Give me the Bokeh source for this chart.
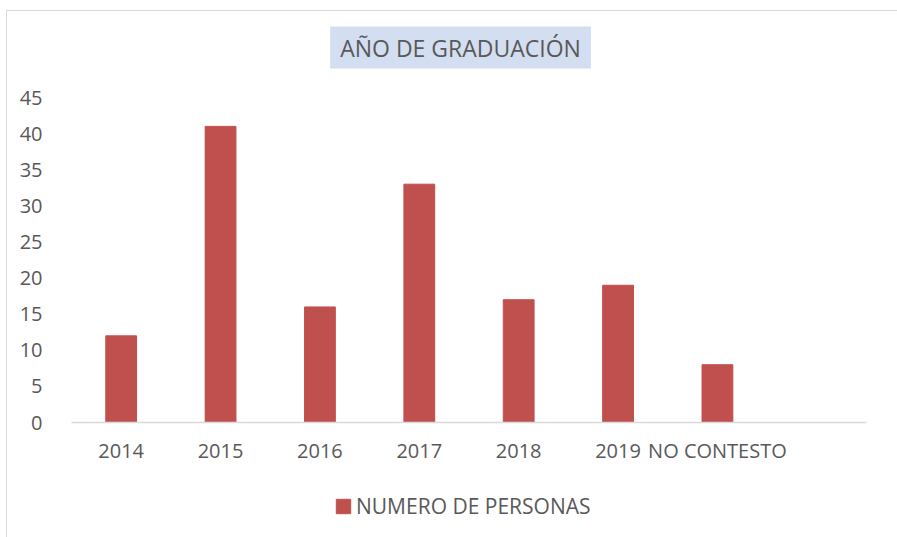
from bokeh.plotting import figure
from bokeh.layouts import column
from bokeh.models import ColumnDataSource, FactorRange, Range1d, FixedTicker, Label, Legend, LegendItem
from bokeh.embed import file_html
from bokeh.resources import INLINE

categories = ["2014", "2015", "2016", "2017", "2018", "2019", "NO CONTESTO", " "]
values = [12, 41, 16, 33, 17, 19, 8]
series_name = "NUMERO DE PERSONAS"
title_text = "AÑO DE GRADUACIÓN"
y_ticks = [0, 5, 10, 15, 20, 25, 30, 35, 40, 45]

FONT = "Open Sans"
TXT = "#595959"
BAR = "#c0504d"
W = 891


def strip(height):
    f = figure(width=W, height=height, x_range=Range1d(0, W), y_range=Range1d(0, height),
               output_backend="svg", toolbar_location=None, min_border=0,
               x_axis_location=None, y_axis_location=None)
    f.xgrid.visible = False
    f.ygrid.visible = False
    f.outline_line_color = None
    return f


# title strip
top = strip(70)
top.add_layout(Label(x=436, y=34, text=title_text, text_align="center", text_baseline="middle",
                     text_font=FONT, text_font_size="23px", text_color=TXT,
                     background_fill_color="#d3dff0", padding=(10, 5)))

# main chart
src = ColumnDataSource(dict(x=categories[:len(values)], top=values))
p = figure(x_range=FactorRange(factors=categories, range_padding=0),
           y_range=Range1d(0, 45),
           frame_width=795, frame_height=325, output_backend="svg", toolbar_location=None,
           min_border_left=64, min_border_right=32, min_border_top=16, min_border_bottom=62)
r = p.vbar(x="x", top="top", width=0.31, source=src, fill_color=BAR, line_color=BAR)

p.xgrid.visible = False
p.ygrid.visible = False
p.outline_line_color = None

p.xaxis.axis_line_color = "#d9d9d9"
p.xaxis.axis_line_width = 1.5
p.xaxis.major_tick_line_color = None
p.xaxis.minor_tick_line_color = None
p.xaxis.major_label_text_font = FONT
p.xaxis.major_label_text_font_size = "20px"
p.xaxis.major_label_text_color = TXT
p.xaxis.major_label_standoff = 8
p.xaxis.group_text_font_size = "0px"

p.yaxis.ticker = FixedTicker(ticks=y_ticks)
p.yaxis.axis_line_color = None
p.yaxis.major_tick_line_color = None
p.yaxis.minor_tick_line_color = None
p.yaxis.major_label_text_font = FONT
p.yaxis.major_label_text_font_size = "20px"
p.yaxis.major_label_text_color = TXT
p.yaxis.major_label_standoff = 23

# legend strip
leg = strip(53)
lr = leg.vbar(x=[0], top=[0], bottom=[0], width=0, fill_color=BAR, line_color=BAR)
legend = Legend(items=[LegendItem(label=series_name, renderers=[lr])],
                location=(263, 17), orientation="horizontal", padding=0, margin=0,
                border_line_alpha=0, background_fill_alpha=0, glyph_width=18, glyph_height=18,
                label_standoff=4, label_text_font=FONT, label_text_font_size="21px",
                label_text_color=TXT)
leg.add_layout(legend)

layout = column(top, p, leg, spacing=0)
layout.styles = {"margin-left": "6px", "margin-top": "10px", "border": "1px solid #d9d9d9"}

open("out.html", "w").write(file_html(layout, INLINE))
